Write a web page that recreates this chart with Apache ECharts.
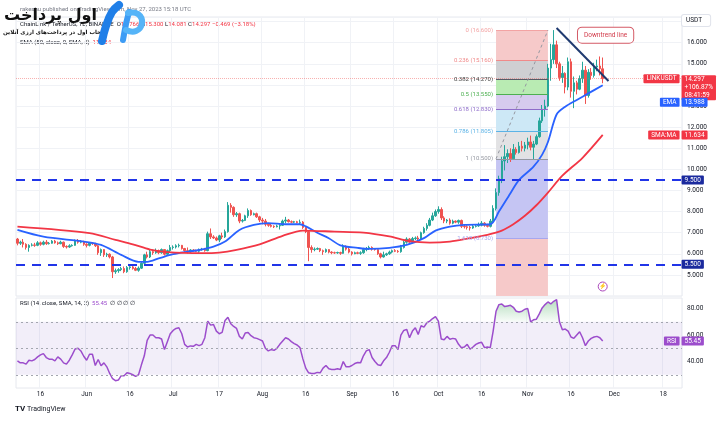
<!DOCTYPE html>
<html>
<head>
<meta charset="utf-8">
<script src="https://cdn.jsdelivr.net/npm/echarts@6/dist/echarts.min.js"></script>
<style>
  html, body { margin: 0; padding: 0; background: #fff; }
  #chart { width: 727px; height: 431px; }
</style>
</head>
<body>
<div id="chart"></div>
<script>
// daily candles LINK/USDT, May 8 -> Nov 27 2023 : [open, close, low, high]
const candles = [
  [6.70,6.50,6.40,6.75],[6.50,6.55,6.42,6.62],[6.55,6.45,6.30,6.70],[6.45,6.30,6.20,6.50],[6.30,6.40,6.10,6.45],[6.40,6.42,6.35,6.50],[6.42,6.40,6.33,6.52],
  [6.40,6.52,6.36,6.60],[6.52,6.45,6.38,6.58],[6.45,6.55,6.40,6.62],[6.55,6.48,6.42,6.65],[6.48,6.50,6.44,6.56],[6.50,6.60,6.48,6.65],[6.60,6.52,6.48,6.66],
  [6.52,6.48,6.42,6.58],[6.48,6.55,6.45,6.62],[6.55,6.35,6.28,6.58],[6.35,6.32,6.25,6.40],[6.32,6.38,6.28,6.45],[6.38,6.40,6.34,6.45],[6.40,6.62,6.38,6.68],
  [6.62,6.55,6.48,6.70],[6.55,6.58,6.50,6.65],[6.58,6.45,6.38,6.62],
  // June
  [6.45,6.40,6.30,6.50],[6.40,6.50,6.35,6.55],[6.50,6.48,6.42,6.55],[6.48,6.38,6.32,6.52],[6.38,6.05,5.95,6.42],[6.05,6.20,5.90,6.25],[6.20,5.95,5.85,6.22],
  [5.95,5.98,5.85,6.05],[5.98,5.85,5.78,6.02],[5.85,5.15,4.85,5.90],[5.15,5.20,5.05,5.30],[5.20,5.25,5.10,5.32],[5.25,5.30,5.18,5.38],[5.30,5.15,5.08,5.40],
  [5.15,5.35,5.10,5.42],[5.35,5.38,5.25,5.45],[5.38,5.30,5.25,5.45],[5.30,5.22,5.18,5.38],[5.22,5.32,5.15,5.40],[5.32,5.55,5.28,5.60],[5.55,5.95,5.50,6.00],
  [5.95,5.85,5.78,6.10],[5.85,6.10,5.80,6.18],[6.10,6.05,5.95,6.20],[6.05,6.15,6.00,6.25],[6.15,6.05,5.98,6.20],[6.05,6.20,6.00,6.25],[6.20,5.98,5.92,6.22],
  [5.98,6.15,5.95,6.20],[6.15,6.30,6.05,6.42],
  // July
  [6.30,6.32,6.20,6.40],[6.32,6.38,6.25,6.45],[6.38,6.40,6.30,6.48],[6.40,6.25,6.20,6.42],[6.25,6.15,6.10,6.28],[6.15,6.10,6.02,6.30],[6.10,6.18,6.05,6.22],
  [6.18,6.15,6.10,6.22],[6.15,6.12,6.08,6.20],[6.12,6.20,6.05,6.25],[6.20,6.22,6.15,6.28],[6.22,6.15,6.10,6.28],[6.15,6.95,6.12,7.05],[6.95,6.80,6.70,7.20],
  [6.80,6.75,6.70,6.88],[6.75,6.65,6.60,6.82],[6.65,6.85,6.55,6.90],[6.85,6.80,6.70,7.00],[6.80,7.05,6.75,7.15],[7.05,8.30,7.00,8.45],[8.30,8.20,7.95,8.40],
  [8.20,7.85,7.75,8.25],[7.85,7.90,7.75,7.98],[7.90,7.55,7.45,7.95],[7.55,7.58,7.48,7.65],[7.58,7.80,7.55,7.85],[7.80,8.05,7.70,8.15],[8.05,7.85,7.80,8.10],
  [7.85,7.90,7.82,7.95],[7.90,7.75,7.70,7.95],[7.75,7.60,7.50,7.80],
  // August
  [7.60,7.55,7.40,7.70],[7.55,7.40,7.30,7.65],[7.40,7.35,7.28,7.45],[7.35,7.30,7.25,7.42],[7.30,7.28,7.22,7.35],[7.28,7.32,7.25,7.38],[7.32,7.35,7.15,7.40],
  [7.35,7.55,7.32,7.62],[7.55,7.60,7.45,7.75],[7.60,7.52,7.48,7.65],[7.52,7.50,7.45,7.58],[7.50,7.52,7.46,7.56],[7.52,7.48,7.44,7.56],[7.48,7.50,7.40,7.62],
  [7.50,7.25,7.18,7.55],[7.25,7.05,6.98,7.30],[7.05,6.30,5.65,7.08],[6.30,6.20,6.05,6.40],[6.20,6.22,6.12,6.30],[6.22,6.25,6.18,6.30],[6.25,6.15,6.08,6.28],
  [6.15,6.10,5.95,6.20],[6.10,6.20,6.05,6.25],[6.20,6.08,6.02,6.22],[6.08,6.05,5.98,6.12],[6.05,6.04,6.00,6.10],[6.04,6.06,6.00,6.10],[6.06,6.02,5.95,6.10],
  [6.02,6.35,6.00,6.45],[6.35,6.22,6.15,6.40],[6.22,6.08,6.02,6.28],
  // September
  [6.08,6.00,5.92,6.12],[6.00,6.05,5.98,6.10],[6.05,6.02,5.98,6.10],[6.02,6.05,5.95,6.12],[6.05,6.20,6.00,6.28],[6.20,6.25,6.12,6.32],[6.25,6.30,6.18,6.38],
  [6.30,6.22,6.15,6.35],[6.22,6.20,6.15,6.26],[6.20,6.00,5.95,6.22],[6.00,5.85,5.78,6.05],[5.85,5.95,5.82,6.10],[5.95,6.00,5.90,6.05],[6.00,6.08,5.95,6.15],
  [6.08,6.15,6.02,6.20],[6.15,6.12,6.08,6.22],[6.12,6.10,6.05,6.18],[6.10,6.30,6.05,6.42],[6.30,6.55,6.25,6.62],[6.55,6.70,6.48,6.78],[6.70,6.55,6.50,6.75],
  [6.55,6.72,6.50,6.80],[6.72,6.75,6.65,6.82],[6.75,6.70,6.62,6.85],[6.70,7.00,6.65,7.05],[7.00,7.20,6.95,7.28],[7.20,7.35,7.10,7.45],[7.35,7.60,7.30,7.70],
  [7.60,7.80,7.55,7.95],[7.80,8.00,7.75,8.10],
  // October
  [8.00,8.10,7.90,8.25],[8.10,7.70,7.60,8.20],[7.70,7.55,7.45,7.78],[7.55,7.60,7.45,7.65],[7.60,7.45,7.38,7.68],[7.45,7.55,7.40,7.62],[7.55,7.50,7.45,7.58],
  [7.50,7.58,7.42,7.62],[7.58,7.30,7.22,7.62],[7.30,7.28,7.20,7.40],[7.28,7.25,7.15,7.35],[7.25,7.22,7.10,7.32],[7.22,7.30,7.18,7.38],[7.30,7.32,7.25,7.40],
  [7.32,7.35,7.28,7.48],[7.35,7.45,7.30,7.55],[7.45,7.35,7.28,7.50],[7.35,7.30,7.25,7.42],[7.30,7.55,7.25,7.65],[7.55,8.15,7.50,8.30],[8.15,8.90,8.05,9.10],
  [8.90,9.55,8.75,9.70],[9.55,10.40,9.35,10.60],[10.40,10.60,9.95,11.15],[10.60,10.75,10.30,10.95],[10.75,10.50,10.35,11.00],[10.50,10.95,10.45,11.20],[10.95,10.80,10.70,11.05],
  [10.80,11.10,10.75,11.30],[11.10,11.00,10.85,11.35],[11.00,11.15,10.85,11.30],
  // November
  [11.15,11.30,10.95,11.50],[11.30,11.05,10.90,11.60],[11.05,11.20,10.45,11.35],[11.20,11.55,11.15,11.65],[11.55,12.30,11.50,12.45],[12.30,12.85,12.20,13.05],[12.85,13.00,12.50,13.30],
  [13.00,14.80,12.95,15.00],[14.80,15.20,14.20,15.95],[15.20,15.90,15.00,16.60],[15.90,15.00,14.80,16.10],[15.00,14.35,14.20,15.10],[14.35,14.55,14.10,14.90],[14.55,13.90,13.60,14.60],
  [13.90,15.10,13.75,15.30],[15.10,13.70,13.40,15.25],[13.70,14.10,12.90,14.40],[14.10,13.80,13.55,14.20],[13.80,14.30,13.75,14.45],[14.30,14.70,14.10,15.10],[14.70,13.50,13.10,14.90],
  [13.50,14.60,13.40,14.75],[14.60,14.45,14.25,14.80],[14.45,14.85,14.35,15.05],[14.85,14.90,14.65,15.20],[14.90,14.77,14.45,15.35],[14.766,14.297,14.081,15.300]
]

// EMA (blue)
const emaDates = ['2023-05-08','2023-05-17','2023-05-31','2023-06-06','2023-06-13','2023-06-19','2023-06-22','2023-06-26','2023-07-01','2023-07-06','2023-07-10','2023-07-15','2023-07-19','2023-07-24','2023-07-29','2023-08-03','2023-08-09','2023-08-14','2023-08-16','2023-08-20','2023-08-24','2023-08-28','2023-09-03','2023-09-07','2023-09-14','2023-09-20','2023-09-26','2023-09-30','2023-10-05','2023-10-10','2023-10-19','2023-10-22','2023-10-26','2023-10-29','2023-11-03','2023-11-06','2023-11-08','2023-11-11','2023-11-14','2023-11-18','2023-11-22','2023-11-27']
const emaValues = [7.13,6.81,6.58,6.42,5.95,5.62,5.62,5.78,5.98,6.10,6.18,6.34,6.58,7.13,7.37,7.45,7.40,7.40,7.30,7.00,6.74,6.40,6.28,6.23,6.28,6.42,6.74,7.10,7.29,7.37,7.40,8.00,8.87,9.50,10.13,10.70,11.30,12.60,12.97,13.29,13.60,13.988]

// SMA 50 (red)
const smaDates = ['2023-05-08','2023-06-02','2023-06-11','2023-06-17','2023-06-23','2023-06-29','2023-07-11','2023-07-17','2023-07-23','2023-07-31','2023-08-08','2023-08-15','2023-08-26','2023-09-05','2023-09-14','2023-09-21','2023-09-28','2023-10-05','2023-10-12','2023-10-18','2023-10-23','2023-10-27','2023-10-31','2023-11-04','2023-11-08','2023-11-13','2023-11-20','2023-11-27']
const smaValues = [7.29,6.98,6.66,6.45,6.20,6.08,6.03,6.06,6.19,6.45,6.85,7.10,7.05,7.00,6.82,6.60,6.53,6.58,6.74,6.90,7.10,7.40,7.80,8.30,8.90,9.70,10.55,11.634]

// RSI(14), one value per candle
const rsi = [
  40.5,39,39,38,41,40.5,41.5,43.5,45,46,43,41.8,41.8,40.5,43.5,41.8,39,38,41,45,49.5,50,48,44,
  41,45.5,45.5,37,41.5,36.8,39,36,31,27,25.5,26,29.3,29.3,31.5,31,30,28.8,30,37.5,44.3,56,60,60,58,58,57,49,55,61,
  63.5,65,65.5,61,53,51,51.8,51.5,53,52,53,58,70.5,67.5,68,63,61,62,71,73.5,68.5,66.5,65,59,57,61.5,62,59.5,58,57.5,56.5,
  55.5,50,48,49,48.5,50,53,55.5,58,57,55,53.5,52.5,50.5,42,35,31.5,31,31,31.8,31.5,35,37,34.5,34,34,34.5,34,40,36,36,
  37,38.5,39.3,39,44.3,48,49,43,40,37.5,37,40.5,43,47,52,52,49,60,63.5,64.3,58,63,65.5,60.5,67,66,69.3,70.5,72.5,74,
  70.5,57,56.5,59,56.8,57.5,57,53,50.5,51,53,49.3,51,53,54,54.5,50.5,51,50.5,63,78,83,83.5,81.5,82,82.5,81,78,77.5,78,79.5,
  80,70,71.5,72,76,80.5,83,85,83.5,85.5,86.8,70,64,64.5,63,58.5,57.5,60,62.5,58,52,55.5,57.5,58.5,59,58,55.45
]

// fib retracement drawn Oct 21 -> Nov 8
const fibStart = '2023-10-21'
const fibEnd = '2023-11-08'
const fibRatios = ['0', '0.236', '0.382', '0.5', '0.618', '0.786', '1', '1.618', '2.618']
const fibPrices = [16.6, 15.16, 14.27, 13.55, 12.83, 11.805, 10.5, 6.73, 0.63]
const fibLineColors = ['#f3a3a3', '#f08a8a', '#555a66', '#4caf50', '#8e6cc9', '#5cb3e6', '#9598a1', '#a7a7ee']
const fibFillColors = ['#f6c9c9', '#cfcfd2', '#b9ebb3', '#d6cbee', '#cde8f6', '#e2e2e4', '#c5c5f3', '#f6c9c9']

const supportLevels = [9.5, 5.5]
const trendLine = [['2023-11-11', 16.7], ['2023-11-29', 14.19]]

const lastClose = 14.297
const lastEma = 13.988
const lastSma = 11.634
const lastRsi = 55.45

const tickDates = ['2023-05-16','2023-06-01','2023-06-16','2023-07-01','2023-07-17','2023-08-01','2023-08-16','2023-09-01','2023-09-16','2023-10-01','2023-10-16','2023-11-01','2023-11-16','2023-12-01','2023-12-18']
const tickTexts = ['16','Jun','16','Jul','17','Aug','16','Sep','16','Oct','16','Nov','16','Dec','18']

// daily categories May 8 -> Dec 24
const cats = []
const d0 = Date.UTC(2023, 4, 8)
for (let i = 0; i < 231; i++) cats.push(new Date(d0 + i * 86400000).toISOString().slice(0, 10))
const lastCat = cats[cats.length - 1]

const FONT = 'Roboto, sans-serif'
const UP = '#26a69a'
const DOWN = '#ef5350'
const Y_MIN = 4

const isTick = (idx, val) => tickDates.includes(val)

const tag = (value, text, color, side, dy) => ({
  coord: [lastCat, value],
  symbolSize: 0,
  label: {
    show: true,
    position: side,
    distance: 1,
    offset: [0, dy || 0],
    formatter: text,
    color: '#fff',
    backgroundColor: color,
    fontFamily: FONT,
    fontSize: 6.5,
    lineHeight: 8,
    padding: [1, 3, 0, 3],
    borderRadius: 1
  }
})

// fib bands + level lines
const fibAreas = []
const fibLines = []
for (let i = 0; i < fibPrices.length - 1; i++) {
  fibAreas.push([
    { xAxis: fibStart, yAxis: fibPrices[i], itemStyle: { color: fibFillColors[i] } },
    { xAxis: fibEnd, yAxis: Math.max(fibPrices[i + 1], Y_MIN) }
  ])
  fibLines.push([
    {
      coord: [fibStart, fibPrices[i]],
      lineStyle: { color: fibLineColors[i], width: 1, type: 'solid' },
      label: {
        show: true, position: 'start', distance: 3,
        formatter: fibRatios[i] + ' (' + fibPrices[i].toFixed(3) + ')',
        color: fibLineColors[i] === '#555a66' ? '#444' : fibLineColors[i],
        fontSize: 6, fontFamily: FONT
      }
    },
    { coord: [fibEnd, fibPrices[i]] }
  ])
}
fibLines.push([
  { coord: [fibStart, fibPrices[6]], lineStyle: { color: '#9598a1', width: 1, type: [3, 3] }, label: { show: false } },
  { coord: [fibEnd, fibPrices[0]] }
])

const chart = echarts.init(document.getElementById('chart'))

chart.setOption({
  animation: false,
  backgroundColor: '#fff',
  textStyle: { fontFamily: FONT },
  grid: [
    { left: 16, right: 45, top: 17, height: 279, show: true, borderColor: '#e6e8ee', borderWidth: 1 },
    { left: 16, right: 45, top: 298, bottom: 43, show: true, borderColor: '#e6e8ee', borderWidth: 1 }
  ],
  xAxis: [
    {
      type: 'category', data: cats, gridIndex: 0, boundaryGap: true,
      axisLine: { show: false }, axisTick: { show: false }, axisLabel: { show: false },
      splitLine: { show: true, interval: isTick, lineStyle: { color: '#f0f2f6' } }
    },
    {
      type: 'category', data: cats, gridIndex: 1, boundaryGap: true,
      axisLine: { show: false }, axisTick: { show: false },
      axisLabel: {
        interval: isTick, margin: 3, fontSize: 6.5, color: '#131722',
        formatter: v => tickTexts[tickDates.indexOf(v)] || ''
      },
      splitLine: { show: true, interval: isTick, lineStyle: { color: '#f0f2f6' } }
    }
  ],
  yAxis: [
    {
      type: 'value', gridIndex: 0, position: 'right', min: Y_MIN, max: 17.22, interval: 1,
      axisLine: { show: false }, axisTick: { show: false },
      axisLabel: {
        margin: 5, fontSize: 6.5, color: '#131722',
        formatter: v => (v >= 5 && v <= 16 && Number.isInteger(v)) ? v.toFixed(3) : ''
      },
      splitLine: { lineStyle: { color: '#f0f2f6' } },
      name: 'USDT', nameLocation: 'end', nameGap: -9,
      nameTextStyle: {
        align: 'left', fontSize: 6.5, color: '#131722', padding: [2, 8, 2, 4],
        borderColor: '#e0e3eb', borderWidth: 1, borderRadius: 2, backgroundColor: '#fff'
      }
    },
    {
      type: 'value', gridIndex: 1, position: 'right', min: 20, max: 88, interval: 20,
      axisLine: { show: false }, axisTick: { show: false },
      axisLabel: {
        margin: 5, fontSize: 6.5, color: '#131722',
        formatter: v => (v >= 40 && v <= 80 && v % 20 === 0) ? v.toFixed(2) : ''
      },
      splitLine: { show: false }
    }
  ],
  series: [
    {
      // fib retracement
      type: 'line', xAxisIndex: 0, yAxisIndex: 0, data: [], z: 1, silent: true,
      markArea: { silent: true, data: fibAreas },
      markLine: { silent: true, symbol: 'none', data: fibLines }
    },
    {
      name: 'LINKUSDT', type: 'candlestick', xAxisIndex: 0, yAxisIndex: 0, z: 3,
      data: candles, barWidth: 2,
      itemStyle: { color: UP, color0: DOWN, borderColor: UP, borderColor0: DOWN, borderWidth: 1 },
      markLine: {
        silent: true, symbol: 'none', label: { show: false },
        data: [
          { yAxis: lastClose, lineStyle: { color: 'rgba(239,83,80,0.45)', width: 1, type: 'dotted' } },
          { yAxis: supportLevels[0], lineStyle: { color: '#2135e8', width: 2, type: [9, 7] } },
          { yAxis: supportLevels[1], lineStyle: { color: '#2135e8', width: 2, type: [9, 7] } }
        ]
      },
      markPoint: {
        silent: true,
        data: [
          tag(lastClose, 'LINKUSDT', '#f23645', 'left'),
          tag(lastClose, '14.297\n+106.87%\n08:41:59', '#f23645', 'right', 9),
          tag(supportLevels[0], supportLevels[0].toFixed(3), '#1b2a9e', 'right'),
          tag(supportLevels[1], supportLevels[1].toFixed(3), '#1b2a9e', 'right'),
          {
            coord: [cats[candles.length - 1], 4.45], symbol: 'circle', symbolSize: 9,
            itemStyle: { color: '#fff', borderColor: '#ab47bc', borderWidth: 1 },
            label: { show: true, position: 'inside', formatter: '\u26A1', color: '#ab47bc', fontSize: 6 }
          }
        ]
      }
    },
    {
      name: 'EMA', type: 'line', xAxisIndex: 0, yAxisIndex: 0, z: 4,
      data: emaDates.map((d, i) => [d, emaValues[i]]),
      smooth: 0.3, symbol: 'none', lineStyle: { color: '#2962ff', width: 1.8 },
      markPoint: {
        silent: true,
        data: [
          tag(lastEma, 'EMA', '#2962ff', 'left', 17),
          tag(lastEma, lastEma.toFixed(3), '#2962ff', 'right', 17)
        ]
      }
    },
    {
      name: 'SMA', type: 'line', xAxisIndex: 0, yAxisIndex: 0, z: 4,
      data: smaDates.map((d, i) => [d, smaValues[i]]),
      smooth: 0.3, symbol: 'none', lineStyle: { color: '#f23645', width: 1.8 },
      markPoint: {
        silent: true,
        data: [
          tag(lastSma, 'SMA:MA', '#f23645', 'left'),
          tag(lastSma, lastSma.toFixed(3), '#f23645', 'right')
        ]
      }
    },
    {
      // downtrend line
      name: 'Downtrend', type: 'line', xAxisIndex: 0, yAxisIndex: 0, z: 5,
      data: trendLine, symbol: 'none', lineStyle: { color: '#1f3a70', width: 2 },
      markPoint: {
        silent: true,
        data: [{
          coord: ['2023-11-28', 16.36], symbolSize: 0,
          label: {
            show: true, position: 'inside', formatter: 'Downtrend line',
            color: '#d23b4a', fontSize: 6.5, fontFamily: FONT,
            backgroundColor: '#fff', borderColor: '#d45a66', borderWidth: 1,
            borderRadius: 4, padding: [4, 6]
          }
        }]
      }
    },
    {
      name: 'RSI', type: 'line', xAxisIndex: 1, yAxisIndex: 1, z: 4,
      data: rsi, symbol: 'none', lineStyle: { color: '#9c4dcc', width: 1.5 },
      markArea: {
        silent: true,
        itemStyle: { color: 'rgba(126,87,194,0.1)' },
        data: [[{ yAxis: 30 }, { yAxis: 70 }]]
      },
      markLine: {
        silent: true, symbol: 'none', label: { show: false },
        lineStyle: { color: '#a3a6af', width: 1, type: [2, 3] },
        data: [{ yAxis: 70 }, { yAxis: 50 }, { yAxis: 30 }]
      },
      markPoint: {
        silent: true,
        data: [
          tag(lastRsi, 'RSI', '#9c4dcc', 'left'),
          tag(lastRsi, lastRsi.toFixed(2), '#9c4dcc', 'right')
        ]
      }
    },
    {
      // overbought fill above 70
      type: 'line', xAxisIndex: 1, yAxisIndex: 1, z: 3, silent: true,
      data: rsi.map(v => Math.max(v, 70)), symbol: 'none',
      lineStyle: { width: 0 },
      areaStyle: {
        origin: 70,
        color: new echarts.graphic.LinearGradient(0, 0, 0, 1, [
          { offset: 0, color: 'rgba(67,170,90,0.55)' },
          { offset: 1, color: 'rgba(67,170,90,0.05)' }
        ])
      }
    }
  ],
  graphic: [
    {
      type: 'text', x: 20, y: 6,
      style: { text: 'rakeshu published on TradingView.com, Nov 27, 2023 15:18 UTC', fill: '#787b86', font: '6px Roboto' }
    },
    {
      type: 'text', x: 20, y: 21,
      style: {
        text: 'ChainLink / TetherUS, 1D, BINANCE  O{r|14.766} H{r|15.300} L{r|14.081} C{r|14.297} {r|\u22120.469 (\u22123.18%)}',
        fill: '#131722', font: '6px Roboto',
        rich: { r: { fill: '#f23645', font: '6px Roboto' } }
      }
    },
    {
      type: 'text', x: 20, y: 39,
      style: {
        text: 'SMA (50, close, 0, SMA, 5)  {r|11.634}',
        fill: '#131722', font: '6px Roboto',
        rich: { r: { fill: '#f23645', font: '6px Roboto' } }
      }
    },
    {
      type: 'text', x: 20, y: 300,
      style: {
        text: 'RSI (14, close, SMA, 14, 2)  {p|55.45}  \u2205 \u2205 \u2205 \u2205',
        fill: '#131722', font: '6px Roboto',
        rich: { p: { fill: '#9c4dcc', font: '6px Roboto' } }
      }
    },
    // watermark logo
    {
      type: 'text', x: 4, y: 8, z: 10,
      style: { text: 'اول پرداخت', fill: '#111', font: 'bold 16px "DejaVu Sans"' }
    },
    {
      type: 'text', x: 3, y: 30, z: 10,
      style: { text: 'انتخاب اول در پرداخت‌های ارزی آنلاین', fill: '#111', font: 'bold 5.6px "DejaVu Sans"' }
    },
    {
      type: 'polyline', z: 10,
      shape: { points: [[102, 41], [106, 26], [112, 12], [119, 5]], smooth: 0.4 },
      style: { fill: 'none', stroke: '#1f7fe8', lineWidth: 8, lineCap: 'round' }
    },
    {
      type: 'polyline', z: 10,
      shape: { points: [[123, 40], [126, 24], [129, 12]], smooth: 0.3 },
      style: { fill: 'none', stroke: '#3d9cf5', lineWidth: 6, lineCap: 'round' }
    },
    {
      type: 'polyline', z: 10,
      shape: { points: [[128, 13], [138, 14], [142, 23], [136, 31], [126, 30]], smooth: 0.5 },
      style: { fill: 'none', stroke: '#55b4f8', lineWidth: 6, lineCap: 'round' }
    },
    {
      type: 'text', x: 15, y: 405,
      style: { text: '{b|TV} TradingView', fill: '#131722', font: '7px Roboto', rich: { b: { font: 'bold 8px Roboto', fill: '#131722' } } }
    }
  ]
})
</script>
</body>
</html>
